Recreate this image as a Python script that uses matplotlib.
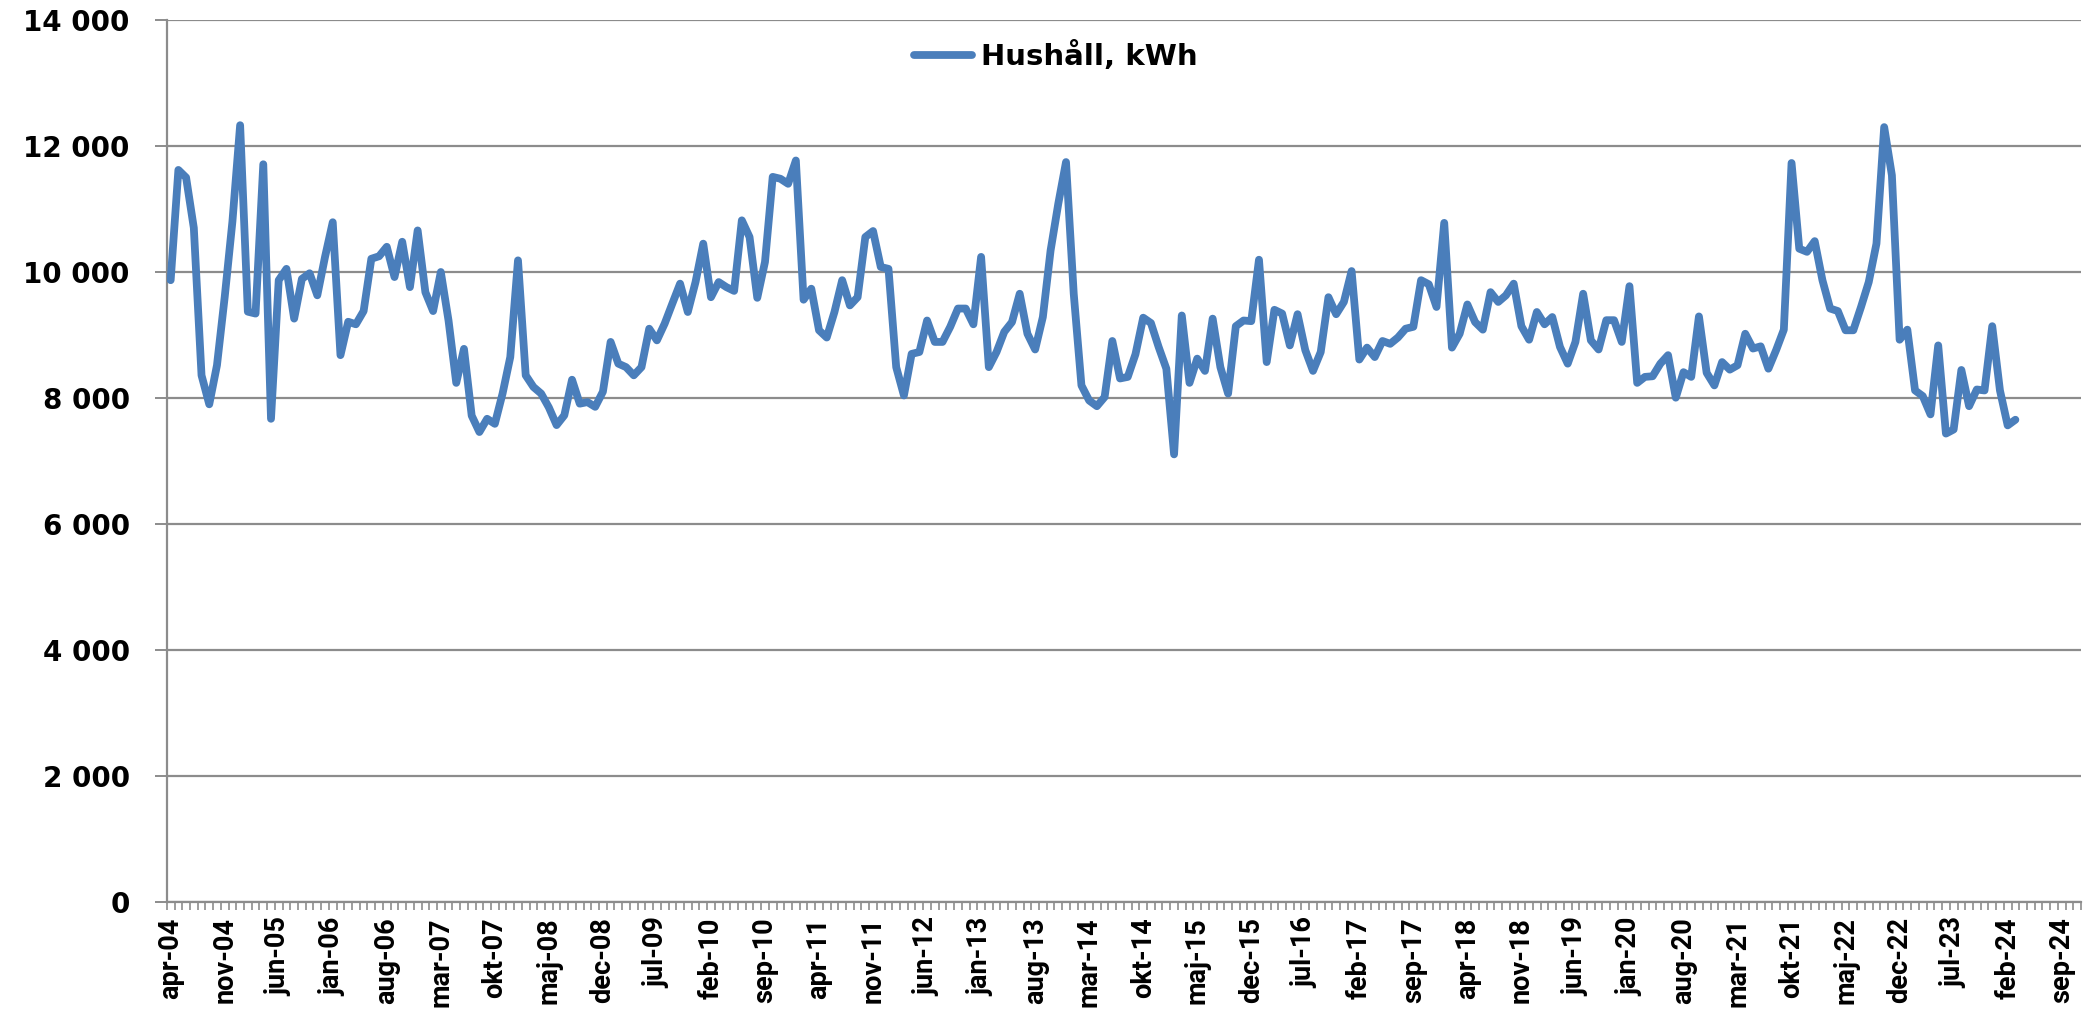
import matplotlib
matplotlib.use("Agg")
import matplotlib.pyplot as plt
from matplotlib.ticker import FixedLocator, FuncFormatter

# ---- data (monthly, apr-04 .. mar-24) ----
series_label = "Hushåll, kWh"
values = [
    9870, 11620, 11500, 10700, 8360, 7900, 8520, 9600, 10800, 12330,
    9370, 9340, 11710, 7670, 9870, 10050, 9260, 9890, 9980, 9630,
    10240, 10790, 8680, 9210, 9170, 9380, 10210, 10250, 10400, 9920,
    10480, 9760, 10660, 9680, 9380, 10000, 9230, 8240, 8780, 7720,
    7460, 7670, 7590, 8070, 8650, 10185, 8360, 8175, 8070, 7850,
    7570, 7725, 8290, 7910, 7935, 7860, 8100, 8890, 8545, 8490,
    8360, 8490, 9100, 8915, 9180, 9500, 9815, 9365, 9840, 10450,
    9600, 9840, 9760, 9700, 10820, 10555, 9590, 10160, 11510, 11480,
    11400, 11770, 9560, 9735, 9075, 8960, 9365, 9870, 9470, 9600,
    10555, 10650, 10080, 10050, 8490, 8040, 8700, 8730, 9230, 8890,
    8890, 9130, 9420, 9420, 9170, 10240, 8490, 8730, 9050, 9205,
    9655, 9020, 8770, 9285, 10340, 11085, 11745, 9655, 8200, 7960,
    7870, 8015, 8905, 8310, 8335, 8695, 9275, 9190, 8810, 8465,
    7105, 9310, 8240, 8625, 8430, 9260, 8490, 8070, 9140, 9230,
    9220, 10195, 8570, 9400, 9340, 8835, 9330, 8760, 8430, 8730,
    9600, 9330, 9525, 10015, 8610, 8800, 8650, 8905, 8860, 8960,
    9100, 9130, 9870, 9805, 9445, 10780, 8800, 9020, 9485, 9205,
    9085, 9680, 9525, 9630, 9815, 9140, 8925, 9365, 9170, 9285,
    8810, 8545, 8890, 9655, 8915, 8770, 9235, 9235, 8890, 9775,
    8240, 8335, 8345, 8545, 8680, 8005, 8410, 8335, 9295, 8400,
    8200, 8570, 8450, 8520, 9020, 8785, 8820, 8465, 8760, 9085,
    11730, 10370, 10320, 10490, 9870, 9420, 9380, 9075, 9075, 9445,
    9840, 10450, 12300, 11535, 8925, 9085, 8120, 8030, 7740, 8835,
    7435, 7500, 8445, 7870, 8135, 8120, 9140, 8120, 7565, 7655,
]
n_categories = 248  # apr-04 .. nov-24 on the category axis
tick_labels = [
    "apr-04", "nov-04", "jun-05", "jan-06", "aug-06", "mar-07", "okt-07",
    "maj-08", "dec-08", "jul-09", "feb-10", "sep-10", "apr-11", "nov-11",
    "jun-12", "jan-13", "aug-13", "mar-14", "okt-14", "maj-15", "dec-15",
    "jul-16", "feb-17", "sep-17", "apr-18", "nov-18", "jun-19", "jan-20",
    "aug-20", "mar-21", "okt-21", "maj-22", "dec-22", "jul-23", "feb-24",
    "sep-24",
]
label_step = 7
y_ticks = [0, 2000, 4000, 6000, 8000, 10000, 12000, 14000]

# ---- figure ----
W, H = 2093, 1010
fig = plt.figure(figsize=(W / 100, H / 100), dpi=100)
left_px, right_px, top_px, bottom_px = 166.8, 2081, 20, 902
ax = fig.add_axes([left_px / W, 1 - bottom_px / H,
                   (right_px - left_px) / W, (bottom_px - top_px) / H])

grey = "#8c8c8c"
ax.plot(range(len(values)), values, color="#4a7ebb", lw=5.6,
        solid_joinstyle="round", solid_capstyle="round",
        label=series_label, zorder=3)

ax.set_xlim(-0.5, n_categories - 0.5)
ax.set_ylim(y_ticks[0], y_ticks[-1])

# y axis
ax.yaxis.set_major_locator(FixedLocator(y_ticks))
ax.yaxis.set_major_formatter(FuncFormatter(lambda v, p: f"{int(v):,}".replace(",", " ")))
ax.yaxis.grid(True, color=grey, lw=1.6)
ax.set_axisbelow(True)
ax.tick_params(axis="y", length=8.6, width=1.4, color=grey, pad=18,
               labelsize=20)
for lab in ax.get_yticklabels():
    lab.set_fontfamily("DejaVu Sans")
    lab.set_fontweight("bold")

# x axis
label_pos = [i * label_step for i in range(len(tick_labels))]
ax.xaxis.set_major_locator(FixedLocator(label_pos))
ax.set_xticklabels(tick_labels, rotation=90, fontfamily="Roboto",
                   fontweight="bold", fontsize=19.5, va="top", ha="center")
ax.xaxis.set_minor_locator(FixedLocator([i - 0.5 for i in range(n_categories + 1)]))
ax.tick_params(axis="x", which="major", length=0, pad=11)
ax.tick_params(axis="x", which="minor", length=6, width=1.2, color=grey)

for s in ("top", "right"):
    ax.spines[s].set_visible(False)
for s in ("left", "bottom"):
    ax.spines[s].set_color(grey)
    ax.spines[s].set_linewidth(1.6)

leg = ax.legend(loc="center left",
                bbox_to_anchor=((914 - left_px) / (right_px - left_px),
                                (bottom_px - 56) / (bottom_px - top_px)),
                frameon=False, borderaxespad=0, borderpad=0,
                handlelength=2.0, handletextpad=0.3,
                prop={"family": "DejaVu Sans", "weight": "bold", "size": 21})

fig.savefig("out.png", dpi=100)
